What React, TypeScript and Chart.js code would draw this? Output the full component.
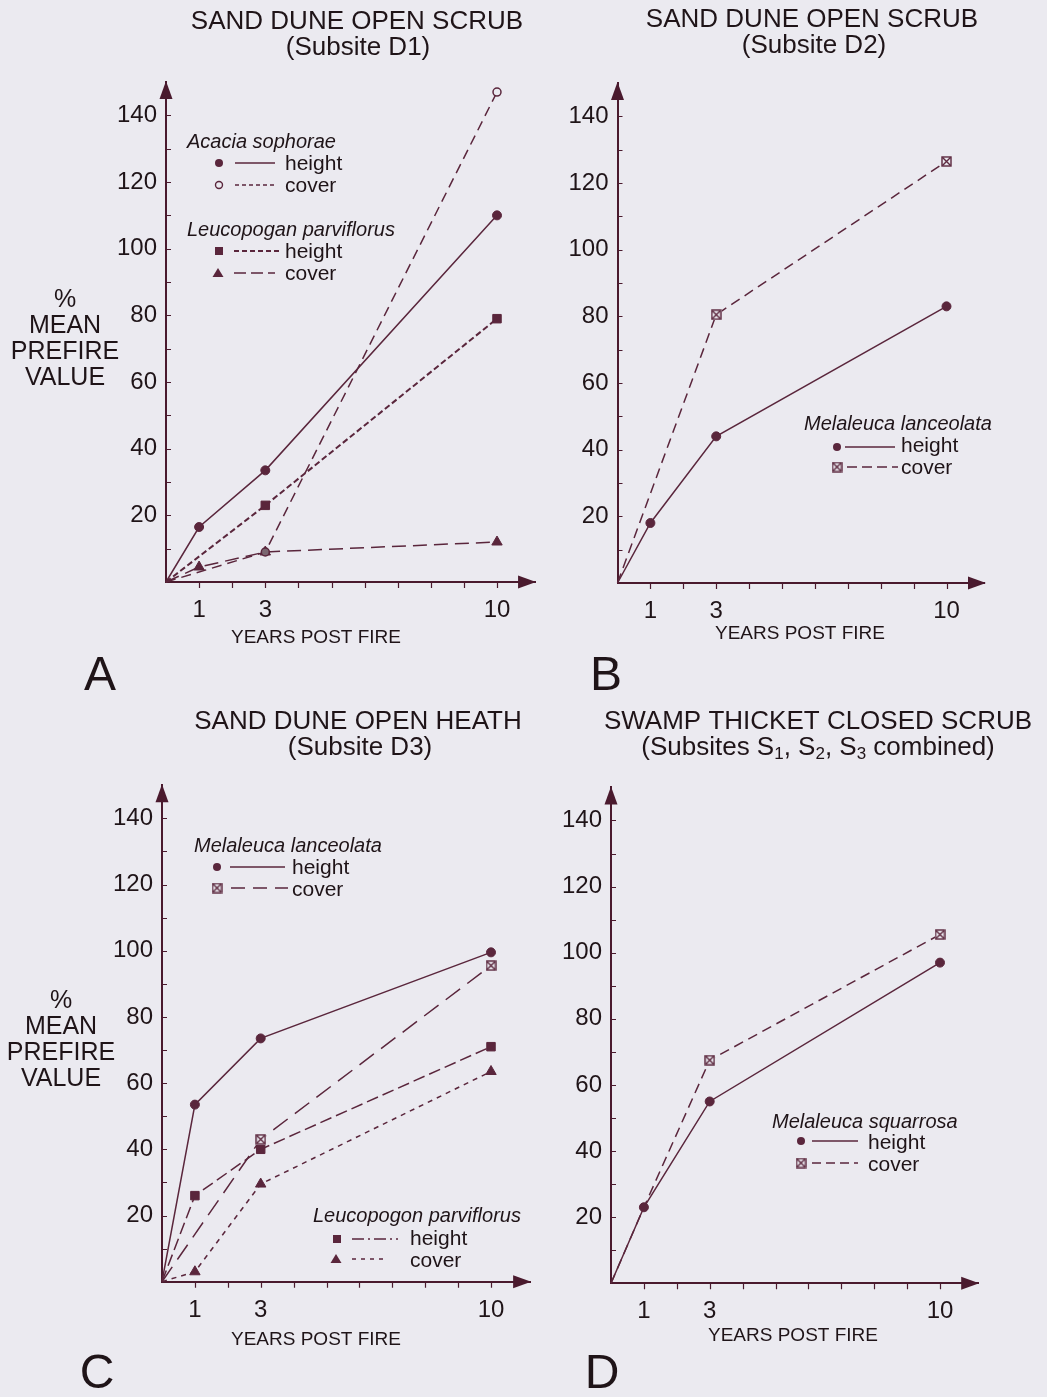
import React, { useEffect, useRef } from 'react';
import { Chart, registerables } from 'chart.js';

Chart.register(...registerables);

// ---------- DATA ----------
const Y_TICK_LABELS = [20, 40, 60, 80, 100, 120, 140];
const X_TICK_LABELS = [1, 3, 10];

// Panel A — Sand dune open scrub (Subsite D1)
const A_ACACIA_HEIGHT_X = [0, 1, 3, 10];
const A_ACACIA_HEIGHT_Y = [0, 16.5, 33.5, 110];
const A_ACACIA_COVER_X = [0, 3, 10];
const A_ACACIA_COVER_Y = [0, 9, 147];
const A_LEUCO_HEIGHT_X = [0, 3, 10];
const A_LEUCO_HEIGHT_Y = [0, 23, 79];
const A_LEUCO_COVER_X = [0, 1, 3, 10];
const A_LEUCO_COVER_Y = [0, 4.5, 9, 12];

// Panel B — Sand dune open scrub (Subsite D2)
const B_MEL_HEIGHT_X = [0, 1, 3, 10];
const B_MEL_HEIGHT_Y = [0, 18, 44, 83];
const B_MEL_COVER_X = [0, 3, 10];
const B_MEL_COVER_Y = [0, 80.5, 126.5];

// Panel C — Sand dune open heath (Subsite D3)
const C_MEL_HEIGHT_X = [0, 1, 3, 10];
const C_MEL_HEIGHT_Y = [0, 53.5, 73.5, 99.5];
const C_MEL_COVER_X = [0, 3, 10];
const C_MEL_COVER_Y = [0, 43, 95.5];
const C_LEUCO_HEIGHT_X = [0, 1, 3, 10];
const C_LEUCO_HEIGHT_Y = [0, 26, 40, 71];
const C_LEUCO_COVER_X = [0, 1, 3, 10];
const C_LEUCO_COVER_Y = [0, 3, 29.5, 63.5];

// Panel D — Swamp thicket closed scrub
const D_SQ_HEIGHT_X = [0, 1, 3, 10];
const D_SQ_HEIGHT_Y = [0, 23, 55, 97];
const D_SQ_COVER_X = [0, 1, 3, 10];
const D_SQ_COVER_Y = [0, 23, 67.5, 105.5];

// ---------- STYLE ----------
const LINE = '#5a263c';
const AXIS = '#4a1a2e';
const TEXT = '#1f1418';
const BG = '#ebeaf0';
const FONT = '"Liberation Sans", Arial, Helvetica, sans-serif';
const W = 1047;
const H = 1397;
const YW = 60;
const XH = 50;

type Marker = 'dot' | 'ring' | 'square' | 'triangle' | 'boxx';

type Series = {
  xs: number[];
  ys: number[];
  dash: number[];
  marker: Marker;
  width?: number;
  hide?: number[]; // x-values where no marker is drawn
  fillAt?: { [k: number]: string };
};

type LegendRow = { marker: Marker; mx: number; my: number; x1: number; x2: number; dash: number[]; label: string; tx: number; ty: number; width?: number };
type LegendTitle = { text: string; x: number; y: number };

type Panel = {
  x0: number; xUnit: number; xMax: number;
  y0: number; yUnit: number; yMax: number;
  series: Series[];
  title1: string;
  title2: (string | { sub: string })[];
  tx: number; t1y: number; t2y: number; t2x: number;
  xTitleX: number; xTitleY: number;
  yTitle?: { x: number; y: number };
  letter: string; lx: number; ly: number;
  legendTitles: LegendTitle[];
  legendRows: LegendRow[];
};

const panels: Panel[] = [
  {
    x0: 166, xUnit: 33.1, xMax: 11.15, y0: 582, yUnit: 3.333, yMax: 150,
    series: [
      { xs: A_ACACIA_COVER_X, ys: A_ACACIA_COVER_Y, dash: [10, 6], marker: 'ring', fillAt: { 3: '#7a6670' } },
      { xs: A_ACACIA_HEIGHT_X, ys: A_ACACIA_HEIGHT_Y, dash: [], marker: 'dot' },
      { xs: A_LEUCO_HEIGHT_X, ys: A_LEUCO_HEIGHT_Y, dash: [6, 3], marker: 'square', width: 2 },
      { xs: A_LEUCO_COVER_X, ys: A_LEUCO_COVER_Y, dash: [14, 7], marker: 'triangle' },
    ],
    title1: 'SAND DUNE OPEN SCRUB', title2: ['(Subsite D1)'], tx: 357, t1y: 22, t2x: 358, t2y: 48,
    xTitleX: 316, xTitleY: 638, yTitle: { x: 65, y: 300 },
    letter: 'A', lx: 100, ly: 677,
    legendTitles: [
      { text: 'Acacia sophorae', x: 187, y: 142 },
      { text: 'Leucopogan parviflorus', x: 187, y: 230 },
    ],
    legendRows: [
      { marker: 'dot', mx: 219, my: 163, x1: 235, x2: 275, dash: [], label: 'height', tx: 285, ty: 164 },
      { marker: 'ring', mx: 219, my: 185, x1: 235, x2: 275, dash: [4, 3], label: 'cover', tx: 285, ty: 186 },
      { marker: 'square', mx: 219, my: 251, x1: 234, x2: 281, dash: [5, 3], label: 'height', tx: 285, ty: 252, width: 2 },
      { marker: 'triangle', mx: 218, my: 273, x1: 234, x2: 275, dash: [12, 5], label: 'cover', tx: 285, ty: 274 },
    ],
  },
  {
    x0: 617.5, xUnit: 32.9, xMax: 11.17, y0: 583, yUnit: 3.333, yMax: 150,
    series: [
      { xs: B_MEL_HEIGHT_X, ys: B_MEL_HEIGHT_Y, dash: [], marker: 'dot' },
      { xs: B_MEL_COVER_X, ys: B_MEL_COVER_Y, dash: [10, 6], marker: 'boxx' },
    ],
    title1: 'SAND DUNE OPEN SCRUB', title2: ['(Subsite D2)'], tx: 812, t1y: 20, t2x: 814, t2y: 46,
    xTitleX: 800, xTitleY: 634,
    letter: 'B', lx: 606, ly: 677,
    legendTitles: [{ text: 'Melaleuca lanceolata', x: 804, y: 424 }],
    legendRows: [
      { marker: 'dot', mx: 837, my: 447, x1: 845, x2: 895, dash: [], label: 'height', tx: 901, ty: 446 },
      { marker: 'boxx', mx: 837, my: 467, x1: 847, x2: 898, dash: [10, 5], label: 'cover', tx: 901, ty: 468 },
    ],
  },
  {
    x0: 162, xUnit: 32.9, xMax: 11.19, y0: 1281.7, yUnit: 3.31, yMax: 150,
    series: [
      { xs: C_MEL_HEIGHT_X, ys: C_MEL_HEIGHT_Y, dash: [], marker: 'dot' },
      { xs: C_MEL_COVER_X, ys: C_MEL_COVER_Y, dash: [18, 9], marker: 'boxx' },
      { xs: C_LEUCO_HEIGHT_X, ys: C_LEUCO_HEIGHT_Y, dash: [12, 5], marker: 'square' },
      { xs: C_LEUCO_COVER_X, ys: C_LEUCO_COVER_Y, dash: [5, 5], marker: 'triangle' },
    ],
    title1: 'SAND DUNE OPEN HEATH', title2: ['(Subsite D3)'], tx: 358, t1y: 722, t2x: 360, t2y: 748,
    xTitleX: 316, xTitleY: 1340, yTitle: { x: 61, y: 1001 },
    letter: 'C', lx: 97, ly: 1375,
    legendTitles: [
      { text: 'Melaleuca lanceolata', x: 194, y: 846 },
      { text: 'Leucopogon parviflorus', x: 313, y: 1216 },
    ],
    legendRows: [
      { marker: 'dot', mx: 217, my: 867, x1: 230, x2: 285, dash: [], label: 'height', tx: 292, ty: 868 },
      { marker: 'boxx', mx: 217, my: 888, x1: 231, x2: 288, dash: [14, 8], label: 'cover', tx: 292, ty: 890 },
      { marker: 'square', mx: 337, my: 1239, x1: 352, x2: 398, dash: [12, 4, 2, 4], label: 'height', tx: 410, ty: 1239 },
      { marker: 'triangle', mx: 336, my: 1259, x1: 352, x2: 387, dash: [4, 5], label: 'cover', tx: 410, ty: 1261 },
    ],
  },
  {
    x0: 611, xUnit: 32.9, xMax: 11.16, y0: 1283.3, yUnit: 3.306, yMax: 150,
    series: [
      { xs: D_SQ_HEIGHT_X, ys: D_SQ_HEIGHT_Y, dash: [], marker: 'dot' },
      { xs: D_SQ_COVER_X, ys: D_SQ_COVER_Y, dash: [10, 6], marker: 'boxx', hide: [1] },
    ],
    title1: 'SWAMP THICKET CLOSED SCRUB',
    title2: ['(Subsites S', { sub: '1' }, ', S', { sub: '2' }, ', S', { sub: '3' }, ' combined)'],
    tx: 818, t1y: 722, t2x: 818, t2y: 748,
    xTitleX: 793, xTitleY: 1336,
    letter: 'D', lx: 602, ly: 1375,
    legendTitles: [{ text: 'Melaleuca squarrosa', x: 772, y: 1122 }],
    legendRows: [
      { marker: 'dot', mx: 801, my: 1141, x1: 812, x2: 858, dash: [], label: 'height', tx: 868, ty: 1143 },
      { marker: 'boxx', mx: 801, my: 1163, x1: 812, x2: 858, dash: [9, 5], label: 'cover', tx: 868, ty: 1165 },
    ],
  },
];

// ---------- helpers ----------
function makeBoxX(size: number): HTMLCanvasElement {
  const c = document.createElement('canvas');
  c.width = size;
  c.height = size;
  const g = c.getContext('2d')!;
  g.fillStyle = BG;
  g.fillRect(0, 0, size, size);
  g.strokeStyle = LINE;
  g.lineWidth = 1.4;
  g.strokeRect(1, 1, size - 2, size - 2);
  g.beginPath();
  g.moveTo(1.5, 1.5);
  g.lineTo(size - 1.5, size - 1.5);
  g.moveTo(size - 1.5, 1.5);
  g.lineTo(1.5, size - 1.5);
  g.stroke();
  return c;
}

function drawMarker(ctx: CanvasRenderingContext2D, m: Marker, x: number, y: number, boxx: HTMLCanvasElement) {
  ctx.save();
  ctx.setLineDash([]);
  ctx.fillStyle = LINE;
  ctx.strokeStyle = LINE;
  ctx.lineWidth = 1.4;
  if (m === 'dot') {
    ctx.beginPath();
    ctx.arc(x, y, 4, 0, Math.PI * 2);
    ctx.fill();
  } else if (m === 'ring') {
    ctx.beginPath();
    ctx.arc(x, y, 3.5, 0, Math.PI * 2);
    ctx.fillStyle = BG;
    ctx.fill();
    ctx.stroke();
  } else if (m === 'square') {
    ctx.fillRect(x - 4, y - 4, 8, 8);
  } else if (m === 'triangle') {
    ctx.beginPath();
    ctx.moveTo(x, y - 5);
    ctx.lineTo(x + 5.5, y + 4);
    ctx.lineTo(x - 5.5, y + 4);
    ctx.closePath();
    ctx.fill();
  } else if (m === 'boxx') {
    ctx.drawImage(boxx, x - boxx.width / 2, y - boxx.height / 2);
  }
  ctx.restore();
}

function buildPlugin(p: Panel, boxx: HTMLCanvasElement) {
  return {
    id: 'panelDecor',
    afterDraw(chart: any) {
      const ctx: CanvasRenderingContext2D = chart.ctx;
      const xs = chart.scales.x;
      const ys = chart.scales.y;
      const { left, right, top, bottom } = chart.chartArea;
      ctx.save();
      // minor ticks
      ctx.strokeStyle = AXIS;
      ctx.lineWidth = 1.2;
      ctx.beginPath();
      ys.ticks.forEach((t: any) => {
        if (t.value > 0 && t.value <= 140) {
          const py = Math.round(ys.getPixelForValue(t.value)) + 0.5;
          ctx.moveTo(left, py);
          ctx.lineTo(left + 5, py);
        }
      });
      xs.ticks.forEach((t: any) => {
        if (t.value > 0 && t.value <= 10) {
          const px = Math.round(xs.getPixelForValue(t.value)) + 0.5;
          ctx.moveTo(px, bottom);
          ctx.lineTo(px, bottom + 6);
        }
      });
      ctx.stroke();
      // arrowheads
      ctx.fillStyle = AXIS;
      ctx.beginPath();
      ctx.moveTo(right + 1, bottom);
      ctx.lineTo(right - 17, bottom - 6.5);
      ctx.lineTo(right - 17, bottom + 6.5);
      ctx.closePath();
      ctx.fill();
      ctx.beginPath();
      ctx.moveTo(left, top - 1);
      ctx.lineTo(left - 6.5, top + 17);
      ctx.lineTo(left + 6.5, top + 17);
      ctx.closePath();
      ctx.fill();

      // titles
      ctx.fillStyle = TEXT;
      ctx.textBaseline = 'middle';
      ctx.textAlign = 'center';
      ctx.font = `26px ${FONT}`;
      ctx.fillText(p.title1, p.tx, p.t1y);
      // second title line, with possible subscripts
      const mainFont = `26px ${FONT}`;
      const subFont = `17px ${FONT}`;
      let total = 0;
      p.title2.forEach((part) => {
        ctx.font = typeof part === 'string' ? mainFont : subFont;
        total += ctx.measureText(typeof part === 'string' ? part : part.sub).width;
      });
      let cx = p.t2x - total / 2;
      ctx.textAlign = 'left';
      p.title2.forEach((part) => {
        if (typeof part === 'string') {
          ctx.font = mainFont;
          ctx.fillText(part, cx, p.t2y);
          cx += ctx.measureText(part).width;
        } else {
          ctx.font = subFont;
          ctx.fillText(part.sub, cx, p.t2y + 6);
          cx += ctx.measureText(part.sub).width;
        }
      });

      // x title
      ctx.textAlign = 'center';
      ctx.font = `19px ${FONT}`;
      ctx.fillText('YEARS POST FIRE', p.xTitleX, p.xTitleY);

      // y title
      if (p.yTitle) {
        ctx.font = `25px ${FONT}`;
        ['%', 'MEAN', 'PREFIRE', 'VALUE'].forEach((s, i) => {
          ctx.fillText(s, p.yTitle!.x, p.yTitle!.y + i * 26);
        });
      }

      // panel letter
      ctx.font = `48px ${FONT}`;
      ctx.fillText(p.letter, p.lx, p.ly);

      // legend
      ctx.textAlign = 'left';
      ctx.font = `italic 20px ${FONT}`;
      p.legendTitles.forEach((t) => ctx.fillText(t.text, t.x, t.y));
      p.legendRows.forEach((r) => {
        ctx.save();
        ctx.strokeStyle = LINE;
        ctx.lineWidth = r.width || 1.5;
        ctx.setLineDash(r.dash);
        ctx.beginPath();
        ctx.moveTo(r.x1, r.my);
        ctx.lineTo(r.x2, r.my);
        ctx.stroke();
        ctx.restore();
        drawMarker(ctx, r.marker, r.mx, r.my, boxx);
        ctx.fillStyle = TEXT;
        ctx.font = `21px ${FONT}`;
        ctx.fillText(r.label, r.tx, r.ty);
      });
      ctx.restore();
    },
  };
}

function datasetFor(s: Series, boxx: HTMLCanvasElement) {
  const data = s.xs.map((x, i) => ({ x, y: s.ys[i] }));
  const style: any =
    s.marker === 'dot' ? 'circle' :
    s.marker === 'ring' ? 'circle' :
    s.marker === 'square' ? 'rect' :
    s.marker === 'triangle' ? 'triangle' : boxx;
  const baseRadius = s.marker === 'dot' ? 4.5 : s.marker === 'ring' ? 4 : s.marker === 'square' ? 6 : s.marker === 'triangle' ? 6 : 5;
  return {
    data,
    borderColor: LINE,
    borderWidth: s.width || 1.5,
    borderDash: s.dash,
    tension: 0,
    fill: false,
    pointStyle: style,
    pointRadius: s.xs.map((x) => (x === 0 || (s.hide && s.hide.includes(x)) ? 0 : baseRadius)),
    pointBackgroundColor: s.xs.map((x) =>
      s.fillAt && s.fillAt[x] ? s.fillAt[x] : s.marker === 'ring' ? BG : LINE
    ),
    pointBorderColor: LINE,
    pointBorderWidth: s.marker === 'ring' ? 1.5 : 1,
    clip: false,
  };
}

function PanelChart({ p }: { p: Panel }) {
  const ref = useRef<HTMLCanvasElement | null>(null);
  useEffect(() => {
    if (!ref.current) return;
    const boxx = makeBoxX(11);
    const chartRight = p.x0 + p.xUnit * p.xMax;
    const chartTop = p.y0 - p.yUnit * p.yMax;
    const chart = new Chart(ref.current, {
      type: 'line',
      data: { datasets: p.series.map((s) => datasetFor(s, boxx)) as any },
      options: {
        animation: false,
        responsive: false,
        maintainAspectRatio: false,
        events: [],
        layout: {
          padding: {
            left: p.x0 - YW,
            right: W - chartRight,
            top: chartTop,
            bottom: H - p.y0 - XH,
          },
        },
        plugins: {
          legend: { display: false },
          tooltip: { enabled: false },
          title: { display: false },
        },
        scales: {
          x: {
            type: 'linear',
            min: 0,
            max: p.xMax,
            afterFit: (s: any) => { s.height = XH; },
            grid: { display: false, drawTicks: false },
            border: { display: true, color: AXIS, width: 2 },
            ticks: {
              stepSize: 1,
              autoSkip: false,
              maxRotation: 0,
              minRotation: 0,
              padding: 14,
              color: TEXT,
              font: { family: FONT, size: 24 },
              callback: (v: any) => (X_TICK_LABELS.includes(Number(v)) ? String(v) : ''),
            },
          },
          y: {
            type: 'linear',
            min: 0,
            max: p.yMax,
            afterFit: (s: any) => { s.width = YW; },
            grid: { display: false, drawTicks: false },
            border: { display: true, color: AXIS, width: 2 },
            ticks: {
              stepSize: 10,
              autoSkip: false,
              padding: 9,
              color: TEXT,
              font: { family: FONT, size: 24 },
              callback: (v: any) => (Y_TICK_LABELS.includes(Number(v)) ? String(v) : ''),
            },
          },
        },
      } as any,
      plugins: [buildPlugin(p, boxx)],
    });
    return () => chart.destroy();
  }, [p]);
  return (
    <canvas
      ref={ref}
      width={W}
      height={H}
      style={{ position: 'absolute', left: 0, top: 0, width: W, height: H }}
    />
  );
}

export default function App() {
  return (
    <div style={{ position: 'absolute', left: 0, top: 0, width: W, height: H, background: BG, overflow: 'hidden' }}>
      {panels.map((p, i) => (
        <PanelChart key={i} p={p} />
      ))}
    </div>
  );
}
